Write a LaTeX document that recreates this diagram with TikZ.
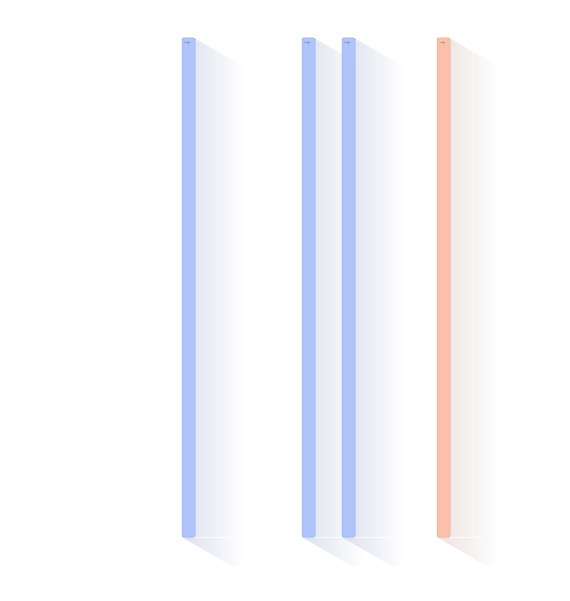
\documentclass[tikz,border=0pt]{standalone}
\usepackage{tikz}
\usetikzlibrary{fadings}
\definecolor{barblue}{HTML}{AEC4FB}
\definecolor{edgeblue}{HTML}{93ABEF}
\definecolor{barorange}{HTML}{FBC0AA}
\definecolor{edgeorange}{HTML}{EBA58D}
\definecolor{shadeblue}{HTML}{DDE1EE}
\definecolor{shadeorange}{HTML}{EBE2DE}
\definecolor{muted}{HTML}{4A4F5C}

\begin{document}
\begin{tikzpicture}[x=1pt, y=1pt,
  shade/.style={fill=#1, path fading=east},
  seam/.style={draw=white, line width=0.6pt, opacity=0.8},
  lab/.style={font=\fontsize{3}{3}\selectfont, text=muted, inner sep=0}]
\useasboundingbox (0,0) rectangle (569,-601);
% shadows first, so that the bars lie on top
\foreach \x/\s in {182/shadeblue, 302/shadeblue, 342/shadeblue, 437/shadeorange} {
  \path[shade=\s] (\x,-38) -- (\x+13,-38) -- (\x+62,-66.5) -- (\x+62,-565.5)
    -- (\x+49,-565.5) -- (\x,-537) -- cycle;
  \draw[seam] (\x+13,-537.5) -- (\x+48,-537.5);
  \draw[seam, opacity=0.5] (\x+35,-51) -- (\x+35,-537);
}
% bars with their tags
\foreach \x/\c/\e/\n in {182/barblue/edgeblue/a, 302/barblue/edgeblue/b,
                         342/barblue/edgeblue/c, 437/barorange/edgeorange/d} {
  \draw[draw=\e, fill=\c, line width=0.5pt, rounded corners=1.5pt]
    (\x,-38) rectangle (\x+13,-537);
  \node[lab] (tag\n) at (\x+5,-43.5) {$\rightarrow$};
}
\end{tikzpicture}
\end{document}
